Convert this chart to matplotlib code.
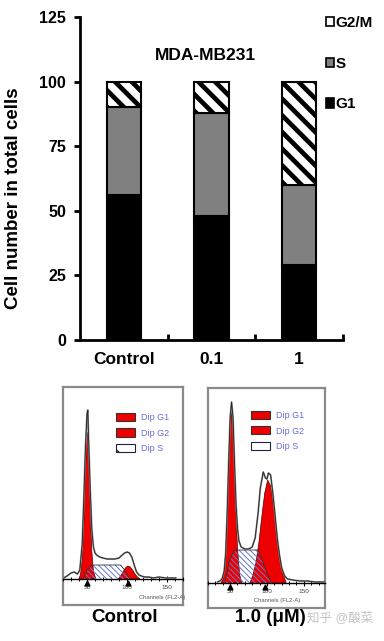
import matplotlib
matplotlib.use("Agg")
import matplotlib.pyplot as plt
from matplotlib.patches import Patch
import numpy as np

plt.rcParams['font.family'] = ['Liberation Sans', 'Noto Sans CJK SC', 'DejaVu Sans']

# ---------------- top chart data ----------------
groups = ['Control', '0.1', '1']
g1 = [56, 48, 29]
s_phase = [34, 40, 31]
g2m = [10, 12, 40]
yticks = [0, 25, 50, 75, 100, 125]

# ---------------- histogram data ----------------
# Control panel
ctrl_out_ch = [21, 25, 30, 34, 38, 41, 44, 46, 48, 50, 51, 52, 54, 56, 58, 60, 62, 66, 70, 75,
               80, 85, 90, 94, 97, 100, 103, 106, 109, 112, 115, 118, 122, 127, 133, 140, 148, 155, 161]
ctrl_out_h = [1, 3, 6, 7, 5, 9, 35, 80, 130, 165, 169, 140, 90, 50, 32, 26, 24, 22, 21, 20,
              20, 20, 21, 24, 26, 27, 26, 22, 14, 7, 4, 3, 2, 2, 1, 2, 1, 1, 1]
ctrl_g1_ch = [40, 42, 44, 46, 48, 50, 51, 52, 54, 56, 58, 61]
ctrl_g1_h = [0, 5, 20, 55, 110, 140, 147, 135, 75, 28, 8, 0]
ctrl_g2_ch = [89, 92, 95, 98, 101, 104, 107, 110, 113, 116]
ctrl_g2_h = [0, 3, 7, 11, 13, 12, 9, 5, 2, 0]
ctrl_s_ch = [45, 50, 55, 58, 92, 96, 100, 104]
ctrl_s_h = [0, 9, 13, 14, 14, 10, 5, 0]

# 1.0 uM panel
trt_out_ch = [33, 36, 39, 42, 44, 46, 48, 50, 52, 54, 56, 58, 60, 62, 65, 70, 75, 80, 84, 88,
              91, 95, 98, 100, 102, 105, 108, 111, 114, 117, 120, 124, 128, 135, 145, 155, 165, 178]
trt_out_h = [1, 2, 4, 12, 30, 70, 120, 165, 181, 165, 120, 80, 55, 42, 36, 34, 34, 36, 45, 70,
             95, 111, 105, 104, 110, 108, 90, 68, 45, 28, 15, 7, 4, 3, 2, 2, 1, 1]
trt_g1_ch = [38, 41, 44, 47, 50, 52, 54, 57, 60, 63, 66]
trt_g1_h = [0, 6, 30, 85, 150, 173, 155, 90, 35, 8, 0]
trt_g2_ch = [77, 81, 85, 89, 93, 97, 101, 105, 109, 113, 117, 121, 126]
trt_g2_h = [0, 8, 20, 40, 66, 90, 103, 97, 78, 52, 28, 12, 0]
trt_s_ch = [43, 49, 54, 58, 88, 93, 99, 106]
trt_s_h = [0, 22, 31, 33, 33, 24, 12, 0]

legend_labels = ['Dip G1', 'Dip G2', 'Dip S']
peak_marks_ctrl = [50, 101]
peak_marks_trt = [50, 97]

W, H = 384, 641
fig = plt.figure(figsize=(W / 100, H / 100), dpi=100)


def fr(x0, y0, x1, y1):
    """pixel box -> figure fraction rect"""
    return [x0 / W, 1 - y1 / H, (x1 - x0) / W, (y1 - y0) / H]


# ---------------- top stacked bar chart ----------------
ax = fig.add_axes(fr(80, 17, 343, 340))
x = np.arange(len(groups))
bw = 0.39
b1 = ax.bar(x, g1, bw, color='black', edgecolor='black', linewidth=1.5, zorder=3)
b2 = ax.bar(x, s_phase, bw, bottom=g1, color='#808080', edgecolor='black', linewidth=1.5, zorder=3)
bottom3 = [a + b for a, b in zip(g1, s_phase)]
with plt.rc_context({'hatch.linewidth': 3.4}):
    b3 = ax.bar(x, g2m, bw, bottom=bottom3, color='white', edgecolor='black',
                linewidth=1.5, hatch='\\\\', zorder=3)
ax.set_xlim(-0.5, 2.5)
ax.set_ylim(0, 125)
for sp in ['top', 'right']:
    ax.spines[sp].set_visible(False)
for sp in ['left', 'bottom']:
    ax.spines[sp].set_linewidth(2)
ax.set_yticks(yticks)
ax.set_yticklabels([str(v) for v in yticks], fontsize=11.5, fontweight='bold')
ax.tick_params(axis='y', direction='out', length=4, width=2, pad=6)
ax.set_xticks(x)
ax.set_xticklabels(groups, fontsize=12.5, fontweight='bold')
ax.tick_params(axis='x', which='major', length=0, pad=9)
ax.set_xticks([0.5, 1.5, 2.5], minor=True)
ax.tick_params(axis='x', which='minor', direction='in', length=4, width=2)
ax.set_ylabel('Cell number in total cells', fontsize=13.5, fontweight='bold')
ax.yaxis.set_label_coords((5 - 80) / 263, (340 - 198) / 323)
ax.yaxis.label.set_va('top')
ax.text((205 - 80) / 263, (340 - 55) / 323, 'MDA-MB231', transform=ax.transAxes,
        ha='center', va='center', fontsize=12.5, fontweight='bold')
with plt.rc_context({'hatch.linewidth': 1.5}):
    h_g2 = Patch(facecolor='white', edgecolor='black', linewidth=1.2, hatch='\\')
h_s = Patch(facecolor='#808080', edgecolor='black', linewidth=1.2)
h_g1 = Patch(facecolor='black', edgecolor='black', linewidth=1.2)
leg = ax.legend([h_g2, h_s, h_g1], ['G2/M', 'S', 'G1'], loc='upper left',
                bbox_to_anchor=(326 / W, 1 - 16 / H), bbox_transform=fig.transFigure,
                frameon=False, prop={'weight': 'bold', 'size': 11},
                handlelength=0.5, handleheight=0.55, handletextpad=0.12,
                labelspacing=1.75, borderpad=0, borderaxespad=0)


# ---------------- histogram panels ----------------
def panel(box, xlim, ylim, out_ch, out_h, g1c, g1h, g2c, g2h, sc, sh, marks,
          leg_anchor, chan_x):
    frame = fig.add_axes(fr(*box))
    frame.set_xticks([])
    frame.set_yticks([])
    for sp in frame.spines.values():
        sp.set_color('#8a8a8a')
        sp.set_linewidth(1.6)
    a = fig.add_axes(fr(*box))
    a.patch.set_alpha(0)
    a.set_xlim(*xlim)
    a.set_ylim(*ylim)
    for sp in ['top', 'right', 'left']:
        a.spines[sp].set_visible(False)
    a.spines['bottom'].set_position(('data', 0))
    a.spines['bottom'].set_linewidth(1.0)
    a.set_yticks([])
    a.set_xticks([50, 100, 150])
    a.set_xticklabels(['50', '100', '150'], fontsize=4.6, color='#444444')
    a.set_xticks(np.arange(20, 180, 10), minor=True)
    a.tick_params(axis='x', which='major', direction='inout', length=5, width=0.8, pad=2)
    a.tick_params(axis='x', which='minor', direction='inout', length=3.5, width=0.7)
    a.fill(g1c, g1h, facecolor='#ee0000', edgecolor='#550000', linewidth=0.5, zorder=2)
    a.fill(g2c, g2h, facecolor='#ee0000', edgecolor='#550000', linewidth=0.5, zorder=2)
    with plt.rc_context({'hatch.linewidth': 0.7}):
        a.fill(sc, sh, facecolor='none', edgecolor='#6677cc', linewidth=0,
               hatch='\\\\\\\\\\\\', zorder=3)
    a.plot(sc, sh, color='#333333', linewidth=0.6, zorder=4)
    a.plot(out_ch, out_h, color='#8a8a8a', linewidth=1.3, zorder=5)
    a.plot(out_ch, out_h, color='#222222', linewidth=0.6, zorder=6)
    a.plot(marks, [-4] * len(marks), linestyle='none', marker='^', color='black',
           markersize=3.5, zorder=7, clip_on=False)
    a.text(chan_x, 0.035, 'Channels (FL2-A)', transform=a.transAxes, ha='center',
           va='center', fontsize=4.2, color='#555555')
    with plt.rc_context({'hatch.linewidth': 0.9}):
        handles = [Patch(facecolor='#ee0000', edgecolor='#333333', linewidth=0.8),
                   Patch(facecolor='#ee0000', edgecolor='#333333', linewidth=0.8),
                   Patch(facecolor='white', edgecolor='#222244', linewidth=0.8, hatch='\\')]
    lg = a.legend(handles, legend_labels, loc='upper left', bbox_to_anchor=leg_anchor,
                  frameon=False, fontsize=6.5, handlelength=2.1, handleheight=1.0,
                  handletextpad=0.7, labelspacing=0.68, borderpad=0, borderaxespad=0)
    for t in lg.get_texts():
        t.set_color('#6b6be0')
    return a


panel((63, 387, 183, 605), (21.1, 161.3), (-26, 192), ctrl_out_ch, ctrl_out_h,
      ctrl_g1_ch, ctrl_g1_h, ctrl_g2_ch, ctrl_g2_h, ctrl_s_ch, ctrl_s_h, peak_marks_ctrl,
      (0.442, 0.88), 0.825)
panel((208, 388, 325, 608), (32.5, 178.8), (-25, 195), trt_out_ch, trt_out_h,
      trt_g1_ch, trt_g1_h, trt_g2_ch, trt_g2_h, trt_s_ch, trt_s_h, peak_marks_trt,
      (0.3675, 0.895), 0.59)

fig.text(125 / W, 1 - 618 / H, 'Control', ha='center', va='center', fontsize=13.5,
         fontweight='bold')
fig.text(270 / W, 1 - 618 / H, '1.0 (μM)', ha='center', va='center', fontsize=13.5,
         fontweight='bold')
fig.text(340 / W, 1 - 618 / H, '知乎 @酸菜', ha='center', va='center', fontsize=9,
         color='#c4c4c4')

fig.savefig('out.png', dpi=100)
